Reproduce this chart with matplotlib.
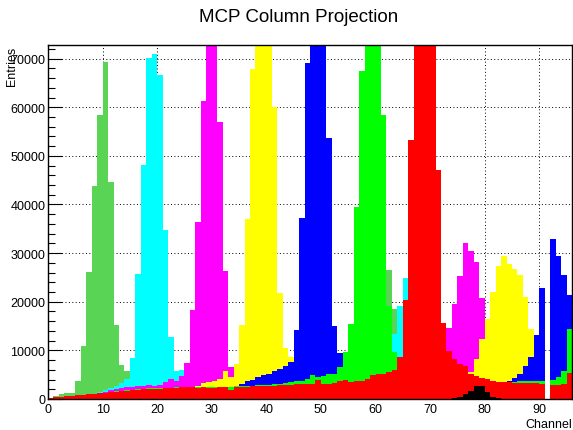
import numpy as np
import matplotlib.pyplot as plt
from matplotlib.ticker import MultipleLocator

plt.rcParams['font.family'] = ['Liberation Sans', 'DejaVu Sans']

# bin edges: one bin per MCP channel
edges = np.arange(97)

# per-column projections (entries per channel), in drawing order
col_a = [100, 600, 1100, 1200, 1300, 3600, 11000, 26100, 43900, 58400,
         69400, 44600, 15300, 6900, 5700, 4500, 3800, 3300, 3000, 2800,
         2700, 2600, 2600, 2500, 2500, 2500, 2400, 2400, 2400, 2300,
         2300, 2300, 2300, 2200, 2200, 2200, 2200, 2100, 2100, 2100,
         2100, 2100, 2000, 2000, 2000, 2000, 2000, 2000, 2000, 2100,
         2100, 2200, 2300, 2400, 2600, 2900, 3300, 4200, 5500, 8000,
         13000, 21000, 26500, 18500, 11000, 6000, 3500, 2500, 2000, 1800,
         1700, 1600, 1600, 1500, 1500, 1500, 1400, 1400, 1400, 1300,
         1300, 1300, 1300, 1200, 1200, 1200, 1200, 1100, 1100, 1100,
         1100, 0, 1000, 1000, 1000, 1500]
col_b = [50, 100, 200, 300, 400, 500, 700, 900, 1100, 1500,
         1900, 2300, 2700, 3300, 4100, 8400, 25700, 48200, 70100, 71000,
         66700, 34800, 12800, 5800, 6000, 4500, 4000, 3600, 3400, 3300,
         3200, 3100, 3000, 3000, 2900, 2900, 2800, 2800, 2800, 2700,
         2700, 2700, 2700, 2600, 2600, 2600, 2600, 2600, 2600, 2600,
         2700, 2700, 2700, 2800, 2800, 2900, 3000, 3100, 3300, 3600,
         4200, 5200, 7500, 13400, 19200, 24800, 20000, 12000, 6000, 3200,
         2200, 1800, 1600, 1500, 1400, 1400, 1300, 1300, 1300, 1200,
         1200, 1200, 1100, 1100, 1100, 1100, 1000, 1000, 1000, 1000,
         1000, 0, 900, 900, 900, 1300]
col_c = [0, 100, 200, 300, 400, 500, 700, 900, 1100, 1300,
         1500, 1800, 2000, 2200, 2400, 2500, 2600, 2700, 2900, 2700,
         2800, 3400, 4100, 3800, 4800, 7400, 18400, 36500, 61300, 90000,
         96000, 56900, 26400, 6500, 5000, 4200, 3800, 3500, 3300, 3200,
         3100, 3000, 3000, 2900, 2900, 2900, 2800, 2800, 2800, 2800,
         2800, 2800, 2800, 2900, 2900, 3000, 3000, 3100, 3100, 3200,
         3300, 3400, 3500, 3600, 3800, 4000, 4300, 4700, 5300, 6200,
         7500, 9000, 11000, 14600, 19600, 25200, 32100, 30500, 28100, 20700,
         12000, 6000, 3500, 2500, 2000, 1800, 1600, 1500, 1400, 1300,
         1200, 0, 1100, 1100, 1100, 1400]
col_d = [0, 50, 100, 150, 200, 300, 400, 500, 600, 700,
         800, 900, 1000, 1100, 1200, 1300, 1400, 1400, 1500, 1500,
         1500, 1600, 1800, 2000, 2200, 2300, 2400, 2700, 3200, 3400,
         3800, 4100, 5800, 4500, 7200, 15200, 37000, 67800, 92000, 101000,
         88000, 60000, 21800, 10400, 8600, 7000, 6000, 5200, 4700, 4400,
         4200, 4000, 3900, 3800, 3700, 3600, 3600, 3500, 3500, 3500,
         3500, 3500, 3500, 3500, 3500, 3600, 3600, 3600, 3700, 3700,
         3800, 3800, 3900, 4000, 4200, 4500, 4800, 5600, 8200, 12300,
         16500, 22100, 27400, 29400, 27800, 26800, 25400, 21000, 14300, 9000,
         5000, 0, 2500, 2200, 2000, 2000]
col_e = [0, 50, 100, 150, 200, 250, 300, 350, 400, 450,
         500, 550, 600, 650, 700, 750, 800, 850, 900, 950,
         1000, 1050, 1100, 1150, 1200, 1300, 1400, 1500, 1600, 1700,
         1800, 1900, 2000, 2200, 2400, 3100, 3800, 4000, 4500, 4900,
         5100, 5700, 6200, 6700, 7700, 14100, 37200, 69100, 95000, 112000,
         92000, 53700, 15000, 9500, 7000, 6000, 5300, 4900, 4600, 4400,
         4200, 4100, 4000, 3900, 3800, 3700, 3600, 3500, 3400, 3300,
         3200, 3100, 3000, 3000, 2900, 2900, 2900, 2800, 2800, 2900,
         3000, 3100, 3300, 3500, 3600, 4300, 5100, 6700, 8600, 13200,
         22800, 0, 33000, 29500, 25500, 21300]
col_f = [0, 100, 200, 300, 400, 500, 700, 900, 1100, 1200,
         1300, 1500, 1600, 1700, 1800, 1900, 2000, 2100, 2200, 2200,
         2300, 2300, 2300, 2400, 2400, 2400, 2500, 2500, 2500, 2500,
         2500, 2500, 2500, 2500, 2600, 2600, 2600, 2700, 2800, 2800,
         2900, 3000, 3100, 3200, 3400, 3600, 3800, 4100, 4900, 4500,
         4700, 5100, 5100, 6500, 9600, 15400, 39400, 67400, 92000, 105000,
         88000, 58400, 19100, 9600, 7500, 6000, 5000, 4500, 4200, 4000,
         3900, 3800, 3700, 3600, 3600, 3500, 3500, 3500, 3500, 3500,
         3500, 3500, 3500, 3500, 3500, 3500, 3800, 3800, 3700, 3600,
         3600, 0, 3900, 4500, 5800, 14400]
col_g = [200, 400, 500, 600, 700, 800, 900, 1000, 1100, 1200,
         1300, 1400, 1500, 1600, 1700, 1800, 1900, 2000, 2000, 2100,
         2100, 2200, 2200, 2300, 2400, 2400, 2400, 2300, 2400, 2300,
         2200, 2500, 2500, 1900, 2400, 2400, 2500, 2600, 2700, 2600,
         2700, 2600, 2800, 2900, 2800, 3000, 3100, 3000, 3100, 3900,
         3000, 3100, 3200, 3700, 3900, 3500, 3800, 3600, 4100, 4900,
         5100, 5100, 5600, 6000, 8600, 20400, 53300, 98000, 125000, 118000,
         90000, 47000, 15600, 9900, 8200, 7200, 6700, 5100, 4700, 4300,
         4100, 3800, 3500, 3400, 3400, 3300, 3300, 3300, 3300, 3300,
         3100, 0, 2900, 2900, 3000, 5300]
col_h = [0] * 74 + [150, 350, 1000, 1700, 2600, 2600, 1500, 480, 140] + [0] * 13

projections = [col_a, col_b, col_c, col_d, col_e, col_f, col_g, col_h]
fill_colors = ['#59d454', '#00ffff', '#ff00ff', '#ffff00',
               '#0000ff', '#00ff00', '#ff0000', '#000000']

fig = plt.figure(figsize=(5.73, 4.31), dpi=100)
ax = fig.add_axes([48 / 573, 31 / 431, 524 / 573, 354 / 431])

for vals, c in zip(projections, fill_colors):
    ax.stairs(vals, edges, fill=True, color=c, linewidth=0)

ax.set_xlim(0, 96)
ax.set_ylim(0, 72800)

ax.xaxis.set_major_locator(MultipleLocator(10))
ax.xaxis.set_minor_locator(MultipleLocator(2))
ax.yaxis.set_major_locator(MultipleLocator(10000))
ax.yaxis.set_minor_locator(MultipleLocator(2000))
ax.tick_params(axis='x', which='major', direction='in', length=7, width=0.8,
               labelsize=9, pad=3)
ax.tick_params(axis='x', which='minor', direction='in', length=3.5, width=0.8)
ax.tick_params(axis='y', which='major', direction='in', length=10, width=0.8,
               labelsize=9, pad=2)
ax.tick_params(axis='y', which='minor', direction='in', length=5, width=0.8)

ax.grid(True, which='major', color='black', linestyle=(0, (1, 2.5)), linewidth=0.7)
ax.set_axisbelow(True)
for s in ax.spines.values():
    s.set_linewidth(1.0)

fig.text(299 / 573, 1 - 18 / 431, 'MCP Column Projection', ha='center',
         va='center', fontsize=13.5)
fig.text(12 / 573, 1 - 47 / 431, 'Entries', rotation=90, ha='center', va='top',
         fontsize=9)
fig.text(572 / 573, 1 - 425 / 431, 'Channel', ha='right', va='center',
         fontsize=9)

fig.savefig('out.png', dpi=100)
